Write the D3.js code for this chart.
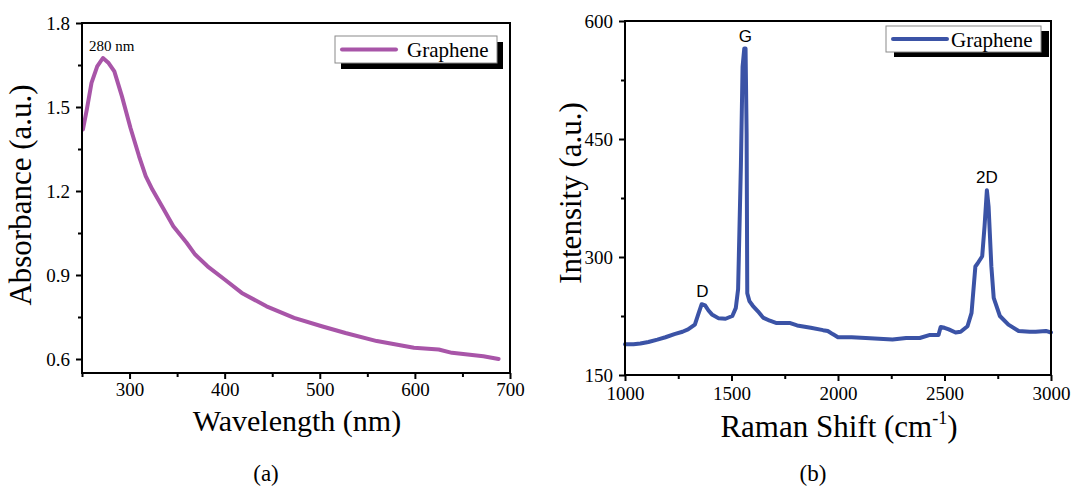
<!DOCTYPE html>
<html>
<head>
<meta charset="utf-8">
<script src="https://cdn.jsdelivr.net/npm/d3@7"></script>
<style>
  html, body { margin: 0; padding: 0; background: #fff; }
  svg { display: block; }
  text { font-family: "Liberation Serif", "Times New Roman", serif; fill: #000; }
  .sans { font-family: "Liberation Sans", Arial, sans-serif; }
</style>
</head>
<body>
<svg id="fig" width="1072" height="486"></svg>
<script>
// UV-Vis absorbance spectrum of graphene
const uvWavelength = [251, 255, 260, 266, 272, 278, 284, 292, 301, 310, 317, 324, 335, 346, 360, 369, 382, 400, 418, 444, 473, 502, 527, 560, 599, 625, 639, 672, 688];
const uvAbsorbance = [1.42, 1.49, 1.586, 1.645, 1.675, 1.657, 1.627, 1.538, 1.425, 1.324, 1.253, 1.205, 1.14, 1.074, 1.015, 0.973, 0.931, 0.884, 0.836, 0.788, 0.747, 0.717, 0.693, 0.664, 0.640, 0.634, 0.622, 0.610, 0.600];
const uvXTicks = [300, 400, 500, 600, 700];
const uvXMinor = [250, 350, 450, 550, 650];
const uvYTicks = [0.6, 0.9, 1.2, 1.5, 1.8];
const uvYMinor = [0.75, 1.05, 1.35, 1.65];

// Raman spectrum of graphene
const ramanShift = [1000, 1040, 1072, 1110, 1152, 1190, 1232, 1270, 1296, 1328, 1345, 1360, 1376, 1392, 1408, 1440, 1472, 1504, 1520, 1531, 1544, 1552, 1560, 1566, 1571, 1574, 1584, 1600, 1624, 1648, 1680, 1712, 1776, 1808, 1872, 1930, 1952, 1975, 2000, 2064, 2130, 2192, 2256, 2320, 2384, 2432, 2472, 2482, 2500, 2520, 2552, 2576, 2608, 2627, 2645, 2656, 2677, 2688, 2699, 2707, 2720, 2731, 2760, 2800, 2848, 2900, 2928, 2976, 3000];
const ramanIntensity = [189, 189, 190, 192, 195, 198, 202, 205, 208, 214, 228, 240, 238.5, 232, 227, 222, 221.5, 225, 235, 259, 415, 542, 565, 565, 457, 254, 244, 238, 231, 223, 219, 216, 216, 213, 210, 207, 206, 202, 198, 198, 197, 196, 195, 197, 197, 201, 201, 211, 210, 208, 204, 205, 212, 229, 288, 292, 301, 339, 385, 364, 288, 248, 225, 214, 206, 205, 205, 206, 204];
const ramanXTicks = [1000, 1500, 2000, 2500, 3000];
const ramanXMinor = [1250, 1750, 2250, 2750];
const ramanYTicks = [150, 300, 450, 600];
const ramanYMinor = [225, 375, 525];

const svg = d3.select("#fig");

function drawPanel(cfg) {
  const g = svg.append("g");
  const x = d3.scaleLinear().domain(cfg.xDomain).range(cfg.xRange);
  const y = d3.scaleLinear().domain(cfg.yDomain).range(cfg.yRange);
  const [x0, x1] = cfg.xRange;
  const [yb, yt] = cfg.yRange;

  // major and minor ticks on bottom and left axes
  const xMajor = d3.axisBottom(x).tickValues(cfg.xTicks).tickSize(6).tickSizeOuter(0).tickPadding(cfg.xPad).tickFormat(d3.format("d"));
  const xMinor = d3.axisBottom(x).tickValues(cfg.xMinor).tickSize(4).tickSizeOuter(0).tickFormat("");
  const yMajor = d3.axisLeft(y).tickValues(cfg.yTicks).tickSize(6).tickSizeOuter(0).tickPadding(6).tickFormat(cfg.yFormat);
  const yMinor = d3.axisLeft(y).tickValues(cfg.yMinor).tickSize(4).tickSizeOuter(0).tickFormat("");

  [[xMajor, true], [xMinor, true], [yMajor, false], [yMinor, false]].forEach(([ax, isX]) => {
    const a = g.append("g")
      .attr("transform", isX ? `translate(0,${yb})` : `translate(${x0},0)`)
      .call(ax);
    a.select(".domain").remove();
    a.selectAll("line").attr("stroke", "#000").attr("stroke-width", 2);
    a.selectAll("text").attr("font-size", 19).attr("fill", "#000")
      .style("font-family", '"Liberation Serif", "Times New Roman", serif');
  });

  // spectrum line
  const line = d3.line().x((d, i) => x(cfg.xs[i])).y((d, i) => y(cfg.ys[i]));
  g.append("path")
    .datum(cfg.xs)
    .attr("d", line)
    .attr("fill", "none")
    .attr("stroke", cfg.color)
    .attr("stroke-width", 4)
    .attr("stroke-linejoin", "round")
    .attr("stroke-linecap", "round");

  // frame
  g.append("rect")
    .attr("x", x0).attr("y", yt)
    .attr("width", x1 - x0).attr("height", yb - yt)
    .attr("fill", "none").attr("stroke", "#000").attr("stroke-width", 2);

  // legend with drop shadow
  const L = cfg.legend;
  g.append("rect").attr("x", L.x + L.sx).attr("y", L.y + L.sy).attr("width", L.w).attr("height", L.h).attr("fill", "#000");
  g.append("rect").attr("x", L.x).attr("y", L.y).attr("width", L.w).attr("height", L.h)
    .attr("fill", "#fff").attr("stroke", "#8a8a8a").attr("stroke-width", 1);
  g.append("line").attr("x1", L.x + 7).attr("x2", L.x + 61).attr("y1", L.y + L.h / 2).attr("y2", L.y + L.h / 2)
    .attr("stroke", cfg.color).attr("stroke-width", 4).attr("stroke-linecap", "round");
  g.append("text").attr("x", L.x + L.tx).attr("y", L.y + L.ty).attr("font-size", 21).text("Graphene");

  return { g, x, y };
}

// (a) UV-Vis
const pa = drawPanel({
  xDomain: [250, 700], xRange: [82, 510],
  yDomain: [0.55, 1.8], yRange: [373, 23],
  xTicks: uvXTicks, xMinor: uvXMinor, yTicks: uvYTicks, yMinor: uvYMinor,
  xPad: 4,
  yFormat: d3.format(".1f"),
  xs: uvWavelength, ys: uvAbsorbance, color: "#a855a8",
  legend: { x: 335, y: 36, w: 162, h: 27, sx: 6, sy: 6, tx: 72, ty: 21 }
});
pa.g.append("text").attr("x", 89).attr("y", 51).attr("font-size", 15).text("280 nm");
pa.g.append("text").attr("x", 297).attr("y", 431).attr("text-anchor", "middle").attr("font-size", 30).text("Wavelength (nm)");
pa.g.append("text").attr("transform", "translate(31,195) rotate(-90)").attr("text-anchor", "middle").attr("font-size", 31).text("Absorbance (a.u.)");
pa.g.append("text").attr("x", 266).attr("y", 481).attr("text-anchor", "middle").attr("font-size", 23).text("(a)");

// (b) Raman
const pb = drawPanel({
  xDomain: [1000, 3000], xRange: [625, 1051],
  yDomain: [150, 600], yRange: [375, 21],
  xTicks: ramanXTicks, xMinor: ramanXMinor, yTicks: ramanYTicks, yMinor: ramanYMinor,
  xPad: 6,
  yFormat: d3.format("d"),
  xs: ramanShift, ys: ramanIntensity, color: "#3b53a6",
  legend: { x: 886, y: 26, w: 155, h: 26, sx: 8, sy: 5, tx: 65, ty: 20.5 }
});
// band labels
[["D", 1363, 240], ["G", 1565, 565], ["2D", 2699, 385]].forEach(([t, xv, yv]) => {
  pb.g.append("text").attr("class", "sans")
    .attr("x", pb.x(xv)).attr("y", pb.y(yv) - 7)
    .attr("text-anchor", "middle").attr("font-size", 17).text(t);
});
const xt = pb.g.append("text").attr("x", 839).attr("y", 437).attr("text-anchor", "middle").attr("font-size", 31);
xt.append("tspan").text("Raman Shift (cm");
xt.append("tspan").attr("font-size", 18).attr("dy", -13).text("-1");
xt.append("tspan").attr("dy", 13).text(")");
pb.g.append("text").attr("transform", "translate(581,193) rotate(-90)").attr("text-anchor", "middle").attr("font-size", 31).text("Intensity (a.u.)");
pb.g.append("text").attr("x", 813).attr("y", 481).attr("text-anchor", "middle").attr("font-size", 23).text("(b)");
</script>
</body>
</html>
